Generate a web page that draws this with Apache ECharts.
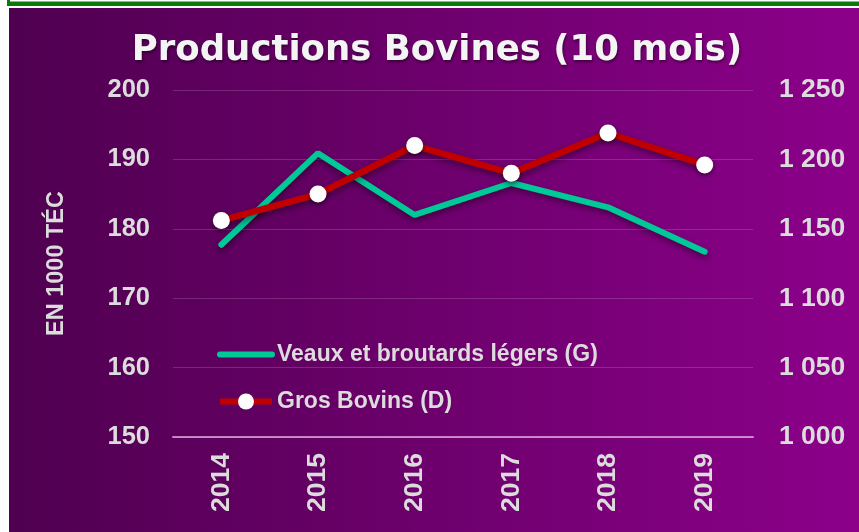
<!DOCTYPE html>
<html>
<head>
<meta charset="utf-8">
<script src="https://cdn.jsdelivr.net/npm/echarts@6/dist/echarts.min.js"></script>
<style>
html,body{margin:0;padding:0;background:#ffffff;}
#chart{width:859px;height:532px;}
</style>
</head>
<body>
<div id="chart"></div>
<script>
const years = ['2014','2015','2016','2017','2018','2019'];
const veaux = [177.7, 190.9, 182.0, 186.6, 183.1, 176.7];
const grosBovins = [1156, 1175, 1210, 1190, 1219, 1196];
const leftTicks = [150, 160, 170, 180, 190, 200];
const rightTicks = [1000, 1050, 1100, 1150, 1200, 1250];
const titleText = 'Productions Bovines (10 mois)';
const yName = 'EN 1000 TÉC';
const seriesNames = ['Veaux et broutards légers (G)', 'Gros Bovins (D)'];

const labelColor = '#dcdcdc';
const fam = '"Liberation Sans", Arial, sans-serif';
const green = '#00c896';
const red = '#c00000';

const chart = echarts.init(document.getElementById('chart'));
chart.setOption({
  backgroundColor: 'transparent',
  animation: false,
  graphic: {
    elements: [
      { type: 'rect', z: -100, shape: { x: 9, y: 8, width: 850, height: 524 },
        style: { fill: new echarts.graphic.LinearGradient(0, 0, 1, 0, [
          { offset: 0, color: '#4f0050' }, { offset: 1, color: '#8c008a' }]) } },
      { type: 'rect', z: -99, shape: { x: 7, y: 1.5, width: 852, height: 4.5 }, style: { fill: '#0a7a0a' } },
      { type: 'rect', z: -99, shape: { x: 7, y: 0, width: 3, height: 6 }, style: { fill: '#0a7a0a' } }
    ]
  },
  title: {
    text: titleText,
    left: 432,
    textAlign: 'center',
    top: 28,
    textStyle: {
      fontFamily: '"DejaVu Sans", sans-serif',
      fontSize: 35.5, fontWeight: 'bold', color: '#f4f4f4',
      textShadowColor: 'rgba(0,0,0,0.45)', textShadowBlur: 3, textShadowOffsetX: 1, textShadowOffsetY: 2
    }
  },
  legend: {
    orient: 'vertical',
    left: 217,
    top: 343,
    padding: 0,
    itemWidth: 52,
    itemHeight: 20,
    itemGap: 24,
    textStyle: { fontFamily: fam, fontSize: 23, fontWeight: 'bold', color: labelColor, lineHeight: 23 },
    data: [
      { name: seriesNames[0], itemStyle: { opacity: 0 }, lineStyle: { width: 6, color: green, cap: 'round' } },
      { name: seriesNames[1], lineStyle: { width: 6, color: red } }
    ]
  },
  grid: { left: 173, right: 106, top: 90, bottom: 95 },
  xAxis: {
    type: 'category',
    data: years,
    boundaryGap: true,
    axisLine: { lineStyle: { color: 'rgba(235,185,235,0.7)', width: 2 } },
    axisTick: { show: false },
    axisLabel: { rotate: 90, margin: 16, fontFamily: fam, fontSize: 26.5, fontWeight: 'bold', color: labelColor }
  },
  yAxis: [
    {
      type: 'value', min: leftTicks[0], max: leftTicks[leftTicks.length - 1], interval: leftTicks[1] - leftTicks[0],
      name: yName, nameLocation: 'middle', nameGap: 104,
      nameTextStyle: { fontFamily: fam, fontSize: 23.5, fontWeight: 'bold', color: labelColor },
      axisLine: { show: false }, axisTick: { show: false },
      axisLabel: { margin: 23, fontFamily: fam, fontSize: 25.5, fontWeight: 'bold', color: labelColor },
      splitLine: { lineStyle: { color: 'rgba(255,255,255,0.16)', width: 1 } }
    },
    {
      type: 'value', min: rightTicks[0], max: rightTicks[rightTicks.length - 1], interval: rightTicks[1] - rightTicks[0],
      axisLine: { show: false }, axisTick: { show: false },
      axisLabel: {
        margin: 26, fontFamily: fam, fontSize: 26.5, fontWeight: 'bold', color: labelColor,
        formatter: v => { const s = String(v); return s.length > 3 ? s.slice(0, s.length - 3) + ' ' + s.slice(-3) : s; }
      },
      splitLine: { show: false }
    }
  ],
  series: [
    {
      name: seriesNames[0], type: 'line', yAxisIndex: 0, data: veaux,
      symbol: 'none',
      lineStyle: { color: green, width: 6, cap: 'round', shadowColor: 'rgba(0,0,0,0.45)', shadowBlur: 6, shadowOffsetY: 3 },
      itemStyle: { color: green }
    },
    {
      name: seriesNames[1], type: 'line', yAxisIndex: 1, data: grosBovins,
      symbol: 'circle', symbolSize: 17,
      lineStyle: { color: red, width: 6.5, shadowColor: 'rgba(0,0,0,0.45)', shadowBlur: 6, shadowOffsetY: 3 },
      itemStyle: { color: '#ffffff', shadowColor: 'rgba(0,0,0,0.5)', shadowBlur: 5, shadowOffsetY: 2 }
    }
  ]
});
</script>
</body>
</html>
